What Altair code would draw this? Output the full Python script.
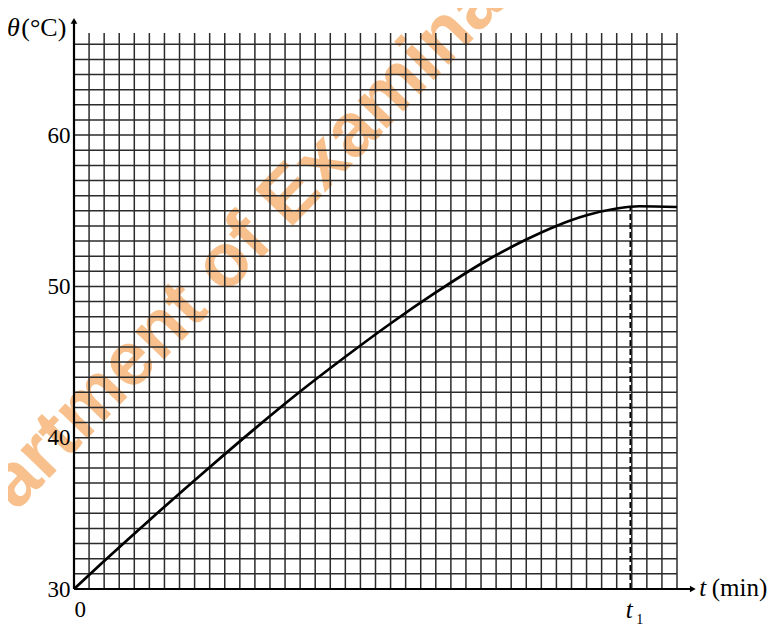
import altair as alt
import pandas as pd

# ---- data ----
t_min = [0, 2, 5, 9, 12, 15, 18, 21, 24, 27, 30, 32, 34, 36, 37.5, 40]
theta_c = [30, 31.85, 34.55, 38.05, 40.6, 43.05, 45.35, 47.55, 49.6, 51.5, 53.1, 54.0, 54.7, 55.15, 55.3, 55.25]
y_ticks = [30, 40, 50, 60]
x_ticks = [0]
grid_x = list(range(0, 41))
grid_y = list(range(30, 67))
t1 = 36.9
t1_theta = 55.3
X_MIN, X_MAX = 0, 40
Y_MIN, Y_MAX = 30, 66.75

SERIF = "Liberation Serif"

xs = alt.Scale(domain=[X_MIN, X_MAX], nice=False, zero=False)
ys = alt.Scale(domain=[Y_MIN, Y_MAX], nice=False, zero=False)
xaxis = alt.Axis(values=x_ticks, title=None, domain=False, ticks=False, grid=False, zindex=1,
                 labelFont=SERIF, labelFontSize=23, labelColor="black", labelPadding=9)
yaxis = alt.Axis(values=y_ticks, title=None, domain=False, ticks=False, grid=False, zindex=1,
                 labelFont=SERIF, labelFontSize=23, labelColor="black", labelPadding=4)


def X(f="x"):
    return alt.X(f"{f}:Q", scale=xs, axis=xaxis)


def Y(f="y"):
    return alt.Y(f"{f}:Q", scale=ys, axis=yaxis)


# watermark
wm = alt.Chart(pd.DataFrame({"x": [-10.44], "y": [28.26], "txt": ["Department of Examination"]})).mark_text(
    angle=314, align="left", baseline="alphabetic", font="Liberation Sans", fontWeight="bold",
    fontSize=76, color="#F8C08C"
).encode(x=X(), y=Y(), text="txt:N")

grid_color = "#2b2b2b"
vgrid = alt.Chart(pd.DataFrame({"x": grid_x, "y": [Y_MIN] * len(grid_x), "y2": [Y_MAX] * len(grid_x)})).mark_rule(
    color=grid_color, strokeWidth=1.5
).encode(x=X(), y=Y(), y2="y2:Q")

hgrid = alt.Chart(pd.DataFrame({"y": grid_y, "x": [X_MIN] * len(grid_y), "x2": [X_MAX] * len(grid_y)})).mark_rule(
    color=grid_color, strokeWidth=1.5
).encode(x=X(), x2="x2:Q", y=Y())

yaxis_line = alt.Chart(pd.DataFrame({"x": [0], "y": [30], "y2": [67.5]})).mark_rule(
    color="black", strokeWidth=2.2
).encode(x=X(), y=Y(), y2="y2:Q")

xaxis_line = alt.Chart(pd.DataFrame({"x": [0], "x2": [40.9], "y": [30]})).mark_rule(
    color="black", strokeWidth=2.2
).encode(x=X(), x2="x2:Q", y=Y())

arrow_up = alt.Chart(pd.DataFrame({"x": [0], "y": [67.55]})).mark_point(
    shape="triangle-up", filled=True, size=45, color="black", opacity=1
).encode(x=X(), y=Y())

arrow_right = alt.Chart(pd.DataFrame({"x": [41.05], "y": [30]})).mark_point(
    shape="triangle-right", filled=True, size=45, color="black", opacity=1
).encode(x=X(), y=Y())

curve = alt.Chart(pd.DataFrame({"x": t_min, "y": theta_c})).mark_line(
    color="black", strokeWidth=2.7, interpolate="monotone"
).encode(x=X(), y=Y())

dash = alt.Chart(pd.DataFrame({"x": [t1], "y": [30], "y2": [t1_theta]})).mark_rule(
    color="black", strokeWidth=1.6, strokeDash=[6, 3]
).encode(x=X(), y=Y(), y2="y2:Q")

labels = pd.DataFrame({
    "x": [-4.45, -3.5, 41.47, 42.3, 36.6, 37.3],
    "y": [67.1, 67.1, 30.05, 30.05, 28.6, 27.95],
    "txt": ["θ", "(°C)", "t", "(min)", "t", "1"],
    "style": ["italic", "normal", "italic", "normal", "italic", "normal"],
    "size": [26, 26, 25, 25, 25, 14],
})

text_layers = []
for i, row in labels.iterrows():
    text_layers.append(
        alt.Chart(labels.iloc[[i]]).mark_text(
            align="left", baseline="middle", font=SERIF, fontStyle=row["style"],
            fontSize=int(row["size"]), color="black"
        ).encode(x=X(), y=Y(), text="txt:N")
    )

chart = alt.layer(wm, vgrid, hgrid, yaxis_line, xaxis_line, dash, curve, arrow_up, arrow_right, *text_layers).properties(
    width=603, height=556,
    padding={"left": 66, "top": 25, "right": 94, "bottom": 40},
    autosize=alt.AutoSizeParams(type="none"),
    background="white",
).configure_view(stroke=None)

chart.save("out.html", embed_options={"renderer": "svg", "actions": False})
